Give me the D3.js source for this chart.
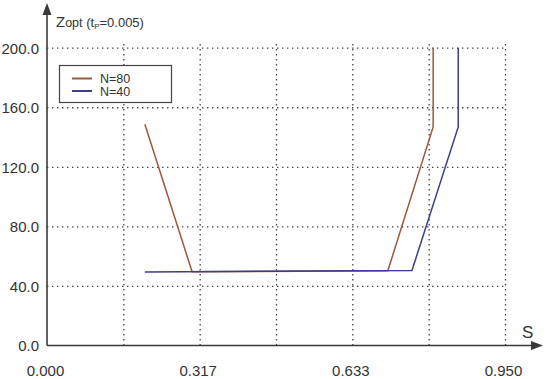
<!DOCTYPE html>
<html>
<head>
<meta charset="utf-8">
<script src="https://cdn.jsdelivr.net/npm/d3@7"></script>
<style>
  body { margin: 0; background: #fff; }
  svg { display: block; font-family: "Liberation Sans", Arial, sans-serif; }
  .grid line { stroke: #444; stroke-width: 1.3; stroke-dasharray: 1.4,3.6; }
  .grid .domain { display: none; }
  .lbl text { fill: #333; font-size: 15px; }
  .lbl .domain, .lbl line { display: none; }
</style>
</head>
<body>
<svg id="chart" width="550" height="379"></svg>
<script>
// values
var xTicks = [0, 0.95 / 6, 0.95 / 3, 0.95 / 2, 0.95 * 2 / 3, 0.95 * 5 / 6, 0.95];
var xTickLabels = ["0.000", "", "0.317", "", "0.633", "", "0.950"];
var yTicks = [0, 40, 80, 120, 160, 200];
var sN80 = [0.203, 0.301, 0.707, 0.801, 0.801];
var zN80 = [148.6, 49.5, 50.2, 146.8, 200];
var sN40 = [0.203, 0.757, 0.853, 0.853];
var zN40 = [49.4, 50.4, 146.8, 200];
var seriesNames = ["N=80", "N=40"];
var seriesColors = ["#9a5a3a", "#3d3d8e"];

var svg = d3.select("#chart");

var x = d3.scaleLinear().domain([0, 0.95]).range([47, 505]);
var y = d3.scaleLinear().domain([0, 200]).range([345.5, 47.7]);

// grid
svg.append("g")
    .attr("class", "grid")
    .attr("transform", "translate(0," + y(0) + ")")
    .call(d3.axisBottom(x).tickValues(xTicks.slice(1)).tickSizeInner(-(y(0) - y(200)) - 4).tickFormat(""));
svg.append("g")
    .attr("class", "grid")
    .attr("transform", "translate(" + x(0) + ",0)")
    .call(d3.axisLeft(y).tickValues(yTicks.slice(1)).tickSizeInner(-(x(0.95) - x(0))).tickFormat(""));

// tick labels
svg.append("g")
    .attr("class", "lbl")
    .attr("transform", "translate(0," + (y(0) + 17) + ")")
    .call(d3.axisBottom(x).tickValues(xTicks).tickSize(0).tickFormat(function (d, i) {
        return xTickLabels[i];
    }))
    .selectAll("text").attr("dx", "-2");
svg.append("g")
    .attr("class", "lbl")
    .attr("transform", "translate(" + (x(0) - 5) + ",0)")
    .call(d3.axisLeft(y).tickValues(yTicks).tickSize(0).tickFormat(d3.format(".1f")))
    .selectAll("text").attr("dy", "0.36em");

// axes with arrows
var axisColor = "#3a3a3a";
svg.append("line")
    .attr("x1", x(0)).attr("x2", x(0))
    .attr("y1", y(0)).attr("y2", 12)
    .attr("stroke", axisColor).attr("stroke-width", 1.6);
svg.append("path")
    .attr("d", "M" + x(0) + ",3 L" + (x(0) - 4.5) + ",15 L" + (x(0) + 4.5) + ",15 Z")
    .attr("fill", axisColor);
svg.append("line")
    .attr("x1", x(0)).attr("x2", 533)
    .attr("y1", y(0)).attr("y2", y(0))
    .attr("stroke", axisColor).attr("stroke-width", 1.6);
svg.append("path")
    .attr("d", "M543," + y(0) + " L531," + (y(0) - 4.5) + " L531," + (y(0) + 4.5) + " Z")
    .attr("fill", axisColor);

// axis titles
var yt = svg.append("text")
    .attr("x", 56).attr("y", 27)
    .attr("fill", "#333")
    .attr("font-size", "13.5px");
yt.append("tspan").text("Z").attr("font-size", "15px");
yt.append("tspan").text("opt").attr("font-size", "12.5px");
yt.append("tspan").text("  (t").attr("font-size", "13px");
yt.append("tspan").text("P").attr("font-size", "8px").attr("dy", "2");
yt.append("tspan").text("=0.005)").attr("font-size", "13px").attr("dy", "-2");

svg.append("text")
    .attr("x", 522).attr("y", 338)
    .attr("fill", "#333")
    .attr("font-size", "17px")
    .text("S");

// series
var line = d3.line()
    .x(function (d) { return x(d[0]); })
    .y(function (d) { return y(d[1]); });

var series = [d3.zip(sN80, zN80), d3.zip(sN40, zN40)];
series.forEach(function (pts, i) {
    svg.append("path")
        .datum(pts)
        .attr("d", line)
        .attr("fill", "none")
        .attr("stroke", seriesColors[i])
        .attr("stroke-width", 1.5);
});

// legend
svg.append("rect")
    .attr("x", 59.5).attr("y", 65.5)
    .attr("width", 112).attr("height", 37)
    .attr("fill", "#fff")
    .attr("stroke", "#444").attr("stroke-width", 1.2);
seriesNames.forEach(function (name, i) {
    var ly = 78.5 + i * 12.5;
    svg.append("line")
        .attr("x1", 72).attr("x2", 92)
        .attr("y1", ly).attr("y2", ly)
        .attr("stroke", seriesColors[i]).attr("stroke-width", 2);
    svg.append("text")
        .attr("x", 100).attr("y", ly)
        .attr("dy", "0.36em")
        .attr("fill", "#333")
        .attr("font-size", "12.5px")
        .text(name);
});
</script>
</body>
</html>
